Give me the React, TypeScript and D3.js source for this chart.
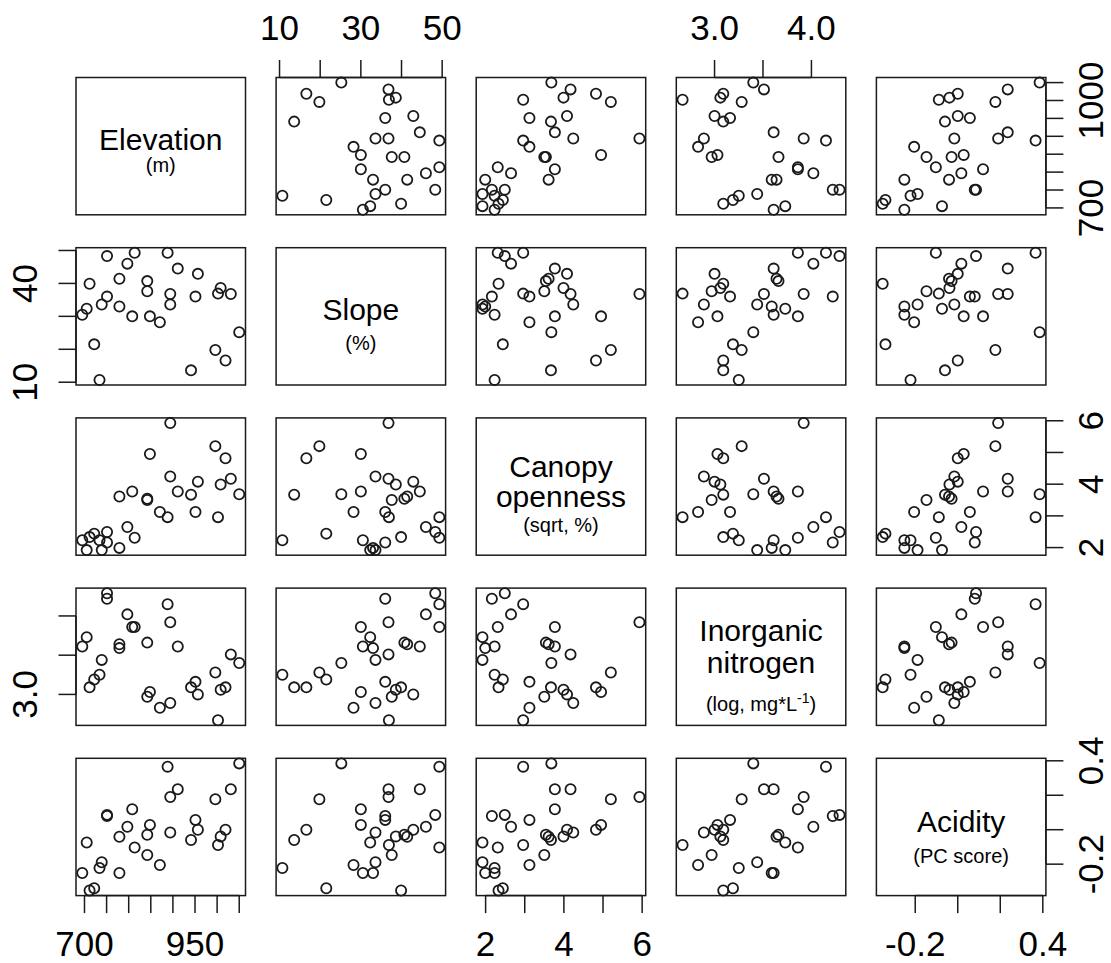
import React from "react";
import * as d3 from "d3";

// One row per sampling site; the five arrays are aligned by index.
const elevation = [695, 705, 711.5, 722, 734, 739, 751, 751, 779, 779, 797, 808, 813.5, 842, 842, 848, 870.5, 888, 894, 894, 911, 941, 951, 956.5, 996, 1002, 1008, 1019, 1031, 1050];
const slope = [30.5, 32.3, 39.9, 21.5, 10.7, 33.6, 48.3, 36.0, 41.4, 33.0, 46.0, 30.0, 49.3, 40.7, 37.6, 30.0, 28.2, 49.3, 36.8, 33.6, 44.5, 13.6, 36.0, 42.9, 19.8, 36.9, 38.6, 16.6, 36.8, 25.2];
const canopy = [2.23, 1.92, 2.33, 2.44, 2.23, 1.92, 2.49, 2.16, 3.61, 1.99, 2.65, 3.77, 2.31, 3.54, 3.5, 4.95, 3.12, 2.96, 5.93, 4.24, 3.77, 3.67, 3.12, 4.08, 5.2, 2.96, 3.99, 4.82, 4.17, 3.68];
const nitrogen = [3.61, 3.73, 3.09, 3.19, 3.25, 3.44, 4.29, 4.22, 3.64, 3.59, 4.02, 3.86, 3.86, 3.66, 2.97, 3.03, 2.83, 4.15, 3.92, 2.89, 3.61, 3.09, 3.16, 3.0, 3.28, 2.67, 3.06, 3.09, 3.51, 3.4];
const acidity = [-0.251, -0.074, -0.353, -0.34, -0.222, -0.189, 0.086, 0.08, -0.041, -0.251, 0.017, 0.119, -0.103, -0.029, -0.147, 0.028, -0.205, 0.366, 0.19, -0.016, 0.235, -0.06, 0.057, 0.0, 0.177, -0.089, -0.039, 0.0, 0.235, 0.385];

// Axis ticks per variable, and which of them carry a printed label on each side.
const elevationTicks = [700, 750, 800, 850, 900, 950, 1000, 1050];
const slopeTicks = [10, 20, 30, 40, 50];
const canopyTicks = [2, 3, 4, 5, 6];
const nitrogenTicks = [3.0, 3.5, 4.0];
const acidityTicks = [-0.2, 0, 0.2, 0.4];

const topLabels: Record<number, string[]> = { 1: ["10", "30", "50"], 3: ["3.0", "4.0"] };
const bottomLabels: Record<number, string[]> = { 0: ["700", "950"], 2: ["2", "4", "6"], 4: ["-0.2", "0.4"] };
const leftLabels: Record<number, string[]> = { 1: ["10", "40"], 3: ["3.0"] };
const rightLabels: Record<number, string[]> = { 0: ["700", "1000"], 2: ["2", "4", "6"], 4: ["-0.2", "0.4"] };

const columns = [elevation, slope, canopy, nitrogen, acidity];
const ticks = [elevationTicks, slopeTicks, canopyTicks, nitrogenTicks, acidityTicks];

type Line = { text: string; size: number; dy: number; sup?: string };
const diagonalText: Line[][] = [
  [{ text: "Elevation", size: 30, dy: 4 }, { text: "(m)", size: 20, dy: 26 }],
  [{ text: "Slope", size: 30, dy: 4 }, { text: "(%)", size: 20, dy: 34 }],
  [{ text: "Canopy", size: 30, dy: -10 }, { text: "openness", size: 30, dy: 20 }, { text: "(sqrt, %)", size: 20, dy: 45 }],
  [{ text: "Inorganic", size: 30, dy: -16 }, { text: "nitrogen", size: 30, dy: 16 }, { text: "(log, mg*L", size: 20, dy: 54, sup: "-1" }],
  [{ text: "Acidity", size: 30, dy: 5 }, { text: "(PC score)", size: 20, dy: 36 }],
];

const W = 1111;
const H = 963;
const panelW = 169.5;
const panelH = 137.3;
const colStart = 76;
const colStep = 200.1;
const rowStart = 77.5;
const rowStep = 170.2;
const tickLen = 17.5;
const font = "'Liberation Sans', Arial, Helvetica, sans-serif";
const ink = "#1a1a1a";

// R-style scale: data range extended by 4% on each side.
function paddedDomain(v: number[]): [number, number] {
  const [lo, hi] = d3.extent(v) as [number, number];
  const pad = (hi - lo) * 0.04;
  return [lo - pad, hi + pad];
}

const fmt = (v: number, labels: string[]) => labels.find((l) => Math.abs(parseFloat(l) - v) < 1e-9);

export default function App() {
  const n = columns.length;
  const xScales = columns.map((v, j) => {
    const x0 = colStart + j * colStep;
    return d3.scaleLinear().domain(paddedDomain(v)).range([x0, x0 + panelW]);
  });
  const yScales = columns.map((v, i) => {
    const y0 = rowStart + i * rowStep;
    return d3.scaleLinear().domain(paddedDomain(v)).range([y0 + panelH, y0]);
  });

  const panels: React.ReactNode[] = [];
  for (let i = 0; i < n; i++) {
    for (let j = 0; j < n; j++) {
      const x0 = colStart + j * colStep;
      const y0 = rowStart + i * rowStep;
      const key = `${i}-${j}`;
      if (i === j) {
        const cx = x0 + panelW / 2;
        const cy = y0 + panelH / 2;
        panels.push(
          <g key={key}>
            {diagonalText[i].map((l, k) => (
              <text key={k} x={cx} y={cy + l.dy} textAnchor="middle" fontSize={l.size} fontFamily={font} fill="#000">
                {l.text}
                {l.sup ? (
                  <tspan fontSize={l.size * 0.7} dy={-l.size * 0.4}>{l.sup}</tspan>
                ) : null}
                {l.sup ? <tspan dy={l.size * 0.4}>)</tspan> : null}
              </text>
            ))}
          </g>
        );
      } else {
        const xs = xScales[j];
        const ys = yScales[i];
        panels.push(
          <g key={key}>
            {columns[j].map((v, k) => (
              <circle key={k} cx={xs(v)} cy={ys(columns[i][k])} r={5.1} fill="none" stroke={ink} strokeWidth={1.8} />
            ))}
          </g>
        );
      }
      panels.push(
        <rect key={key + "b"} x={x0} y={y0} width={panelW} height={panelH} fill="none" stroke={ink} strokeWidth={1.5} />
      );
    }
  }

  const axes: React.ReactNode[] = [];
  const top = rowStart;
  const bottom = rowStart + (n - 1) * rowStep + panelH;
  const left = colStart;
  const right = colStart + (n - 1) * colStep + panelW;
  const labelSize = 35;

  // Horizontal axes (top and bottom of the matrix)
  for (let j = 0; j < n; j++) {
    const xs = xScales[j];
    const sides: [Record<number, string[]>, number, number][] = [
      [topLabels, top, -1],
      [bottomLabels, bottom, 1],
    ];
    sides.forEach(([labels, edge, dir]) => {
      const lab = labels[j];
      if (!lab) return;
      const tv = ticks[j];
      axes.push(
        <g key={`h${j}${dir}`}>
          <line x1={xs(tv[0])} x2={xs(tv[tv.length - 1])} y1={edge} y2={edge} stroke={ink} strokeWidth={1.5} />
          {tv.map((t) => (
            <line key={t} x1={xs(t)} x2={xs(t)} y1={edge} y2={edge + dir * tickLen} stroke={ink} strokeWidth={1.5} />
          ))}
          {tv.map((t) => {
            const s = fmt(t, lab);
            if (!s) return null;
            return (
              <text key={"l" + t} x={xs(t)} y={dir < 0 ? edge - 38 : edge + 60} textAnchor="middle" fontSize={labelSize} fontFamily={font} fill="#000">
                {s}
              </text>
            );
          })}
        </g>
      );
    });
  }

  // Vertical axes (left and right of the matrix)
  for (let i = 0; i < n; i++) {
    const ys = yScales[i];
    const sides: [Record<number, string[]>, number, number, number][] = [
      [leftLabels, left, -1, 37],
      [rightLabels, right, 1, 1103],
    ];
    sides.forEach(([labels, edge, dir, bx]) => {
      const lab = labels[i];
      if (!lab) return;
      const tv = ticks[i];
      axes.push(
        <g key={`v${i}${dir}`}>
          <line x1={edge} x2={edge} y1={ys(tv[0])} y2={ys(tv[tv.length - 1])} stroke={ink} strokeWidth={1.5} />
          {tv.map((t) => (
            <line key={t} x1={edge} x2={edge + dir * tickLen} y1={ys(t)} y2={ys(t)} stroke={ink} strokeWidth={1.5} />
          ))}
          {tv.map((t) => {
            const s = fmt(t, lab);
            if (!s) return null;
            return (
              <text key={"l" + t} transform={`translate(${bx},${ys(t)}) rotate(-90)`} textAnchor="middle" fontSize={labelSize} fontFamily={font} fill="#000">
                {s}
              </text>
            );
          })}
        </g>
      );
    });
  }

  return (
    <svg width={W} height={H} viewBox={`0 0 ${W} ${H}`} style={{ display: "block", position: "absolute", left: 0, top: 0, background: "#fff" }}>
      <rect width={W} height={H} fill="#fff" />
      {panels}
      {axes}
    </svg>
  );
}
